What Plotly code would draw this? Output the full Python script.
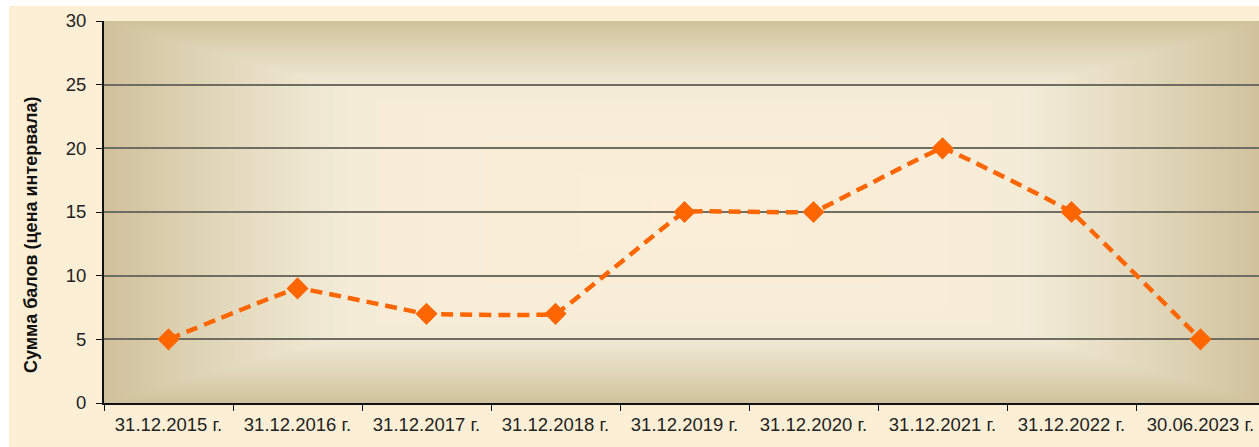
import base64, struct, zlib
import numpy as np
import plotly.graph_objects as go

categories = ["31.12.2015 г.", "31.12.2016 г.", "31.12.2017 г.", "31.12.2018 г.",
              "31.12.2019 г.", "31.12.2020 г.", "31.12.2021 г.", "31.12.2022 г.",
              "30.06.2023 г."]
values = [5, 9, 7, 7, 15, 15, 20, 15, 5]
y_title = "Сумма балов (цена интервала)"

W, H = 1259, 447
ML, MR, MT, MB = 104, 0, 21, 44
PW, PH = W - ML - MR, H - MT - MB
VIRT_W = 1161.0  # full plot width (the chart is cropped on the right)


def png_data_uri(arr):
    h, w, _ = arr.shape
    raw = b"".join(b"\x00" + arr[i].tobytes() for i in range(h))
    def chunk(tag, data):
        c = struct.pack(">I", len(data)) + tag + data
        return c + struct.pack(">I", zlib.crc32(tag + data) & 0xFFFFFFFF)
    png = (b"\x89PNG\r\n\x1a\n" + chunk(b"IHDR", struct.pack(">IIBBBBB", w, h, 8, 2, 0, 0, 0))
           + chunk(b"IDAT", zlib.compress(raw, 9)) + chunk(b"IEND", b""))
    return "data:image/png;base64," + base64.b64encode(png).decode()


def hexrgb(h):
    h = h.lstrip("#")
    return np.array([int(h[i:i + 2], 16) for i in (0, 2, 4)], dtype=float)

# background canvas: white strip, cream page, gradient plot area
img = np.zeros((H, W, 3), dtype=float)
img[:, :] = hexrgb("#FFFFFF")
img[6:, 9:] = hexrgb("#FDEFD5")

edge = hexrgb("#CFC19B")
mid = hexrgb("#F2EBD7")
center = hexrgb("#FCEED8")
xs = np.arange(PW) + 0.5
ys = np.arange(PH) + 0.5
u = np.abs(xs - VIRT_W / 2) / (VIRT_W / 2)
v = np.abs(ys - PH / 2) / (PH / 2)
U, V = np.meshgrid(u, v)
s = np.clip(np.maximum((U - 0.58) / 0.42, (V - 0.64) / 0.36), 0, 1) ** 1.15
w = np.clip(1 - np.maximum(U / 0.6, V / 0.66), 0, 1) ** 0.5
col = mid[None, None, :] + (center - mid)[None, None, :] * w[..., None]
col = col + (edge[None, None, :] - col) * s[..., None]
img[MT:MT + PH, ML:ML + PW] = col
img = np.clip(np.round(img), 0, 255).astype(np.uint8)

fig = go.Figure()
fig.add_trace(go.Scatter(
    x=categories, y=values, mode="lines+markers",
    line=dict(color="#FF6600", width=4.5, dash="12px,7px", shape="spline", smoothing=0.15),
    marker=dict(symbol="diamond", size=17, color="#FF6600"),
    showlegend=False, cliponaxis=False,
))

fig.add_layout_image(dict(
    source=png_data_uri(img), xref="paper", yref="paper",
    x=-ML / PW, y=1 + MT / PH, sizex=W / PW, sizey=H / PH,
    xanchor="left", yanchor="top", sizing="stretch", layer="below",
))

fig.add_annotation(
    text=y_title, xref="paper", yref="paper", x=(31 - ML) / PW, y=1 - (235 - MT) / PH,
    textangle=-90, showarrow=False, xanchor="center", yanchor="middle",
    font=dict(family="Liberation Sans, Arial", size=18, color="#111111", weight="bold"),
)

fig.update_layout(
    width=W, height=H,
    margin=dict(l=ML, r=MR, t=MT, b=MB, pad=0),
    paper_bgcolor="rgba(0,0,0,0)", plot_bgcolor="rgba(0,0,0,0)",
    font=dict(family="Liberation Sans, Arial", size=18.5, color="#222222"),
    xaxis=dict(
        type="category", range=[-0.5, -0.5 + PW / (VIRT_W / 9)],
        showline=True, linecolor="#111111", linewidth=2,
        ticks="outside", tickson="boundaries", ticklen=6, tickcolor="#111111", tickwidth=1,
        showgrid=False, tickfont=dict(size=18.5, color="#222222"), ticklabelstandoff=4,
    ),
    yaxis=dict(
        range=[0, 30], dtick=5, showline=True, linecolor="#111111", linewidth=2,
        ticks="outside", ticklen=6, tickcolor="#111111", tickwidth=1,
        showgrid=True, gridcolor="#6f6c62", gridwidth=2, zeroline=False,
        tickfont=dict(size=18.5, color="#222222"), ticklabelstandoff=6,
    ),
)

fig.write_html("out.html", config={"displayModeBar": False},
               post_script="document.body.style.margin='0';")
